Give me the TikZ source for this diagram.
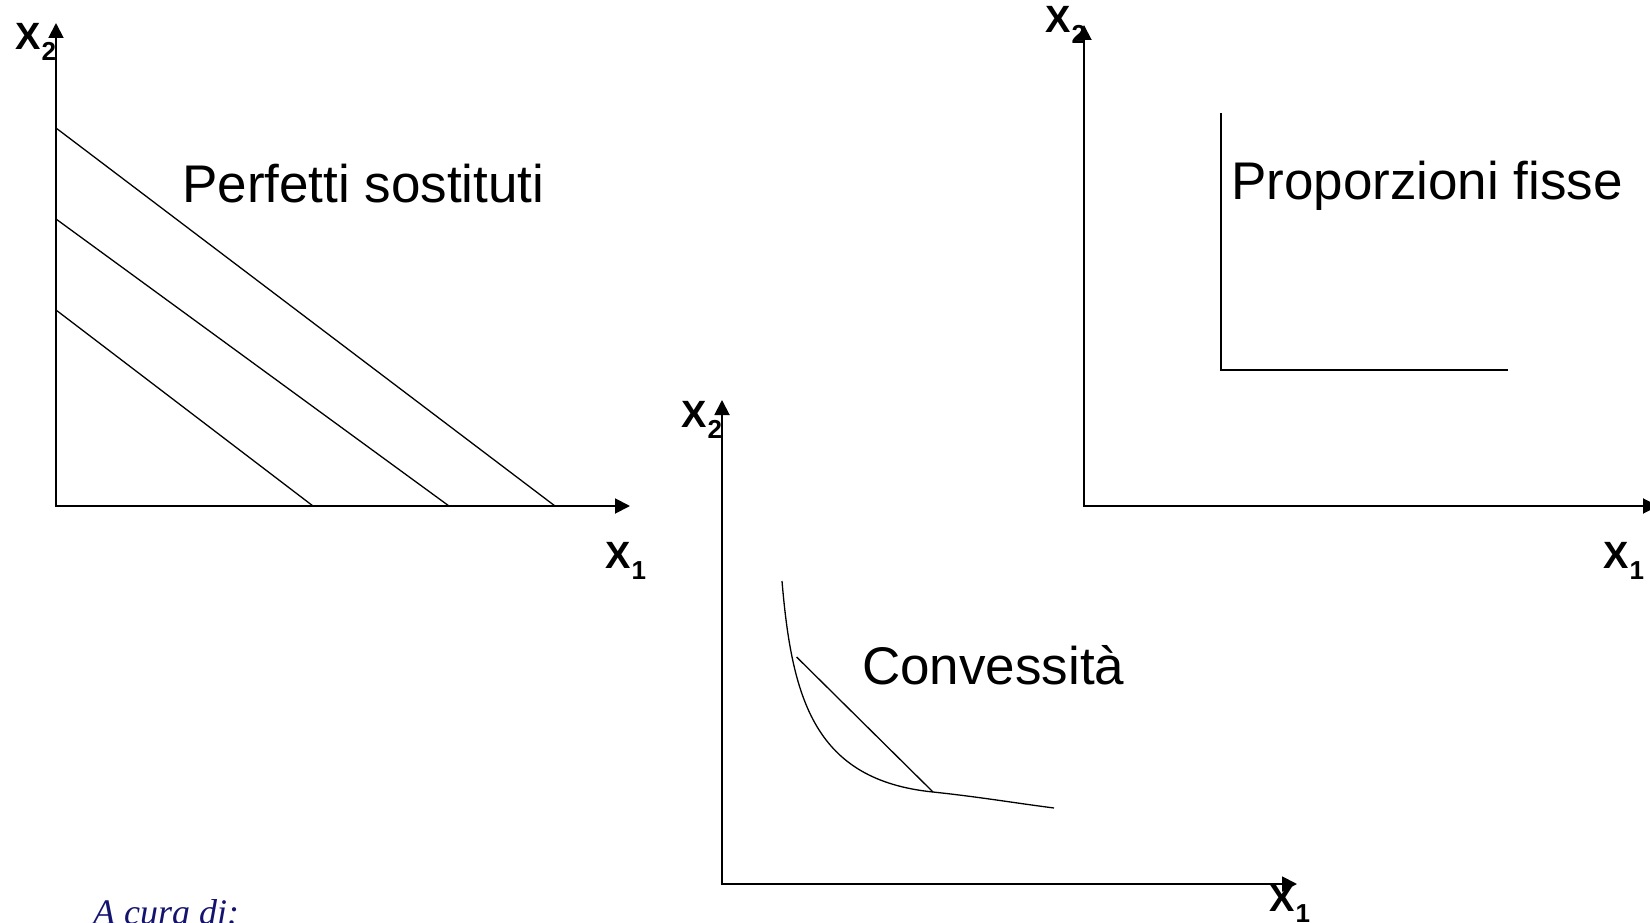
\documentclass[tikz,border=0pt]{standalone}
\usepackage{fontspec}
\setmainfont{Liberation Sans}
\newfontfamily\curafont{Liberation Serif}
\usetikzlibrary{arrows.meta}
\definecolor{curanavy}{RGB}{20,20,110}

% bold X with a lowered index
\newcommand{\xvar}[1]{\textbf{X\kern1pt\raisebox{-11pt}{\fontsize{26}{28}\selectfont #1}}}

\begin{document}
\begin{tikzpicture}[x=1pt, y=-1pt,
  >={Triangle[length=15pt,width=15pt]},
  ax/.style={draw=black, line width=1.9pt, <->},
  iso/.style={draw=black, line width=1.3pt},
  ttl/.style={inner sep=0pt, anchor=base west, font=\fontsize{53}{60}\selectfont},
  var/.style={inner sep=0pt, anchor=base west, font=\fontsize{38}{40}\selectfont}]
\useasboundingbox (0,0) rectangle (1650,923);

% perfetti sostituti
\coordinate (ya) at (56,23);
\coordinate (oa) at (56,506);
\coordinate (xa) at (630,506);
\draw[ax] (ya) -- (oa) -- (xa);
\foreach \a/\b in {128/555, 219/449, 310/313}
  \draw[iso] (56,\a) -- (\b,506);
\node[var] (x2a) at (15,50) {\xvar{2}};
\node[var] (x1a) at (605,568) {\xvar{1}};
\node[ttl] (perf) at (182,202) {Perfetti sostituti};

% proporzioni fisse
\coordinate (yb) at (1084,25);
\coordinate (ob) at (1084,506);
\coordinate (xb) at (1658,506);
\draw[ax] (yb) -- (ob) -- (xb);
\draw[iso] (1221,113) -- (1221,370) -- (1508,370);
\node[var] (x2b) at (1045,33) {\xvar{2}};
\node[var] (x1b) at (1603,568) {\xvar{1}};
\node[ttl] (prop) at (1231,200) {Proporzioni fisse};

% convessita
\coordinate (yc) at (722,400);
\coordinate (oc) at (722,884);
\coordinate (xc) at (1297,884);
\draw[ax] (yc) -- (oc) -- (xc);
\coordinate (ca) at (796.6,657);
\coordinate (cb) at (933,792);
\draw[iso] (782,581) .. controls (792,700) and (815,780) .. (cb)
  .. controls (980,797) and (1015,803) .. (1054,808);
\draw[iso] (ca) -- (cb);
\node[var] (x2c) at (681,427) {\xvar{2}};
\node[var] (x1c) at (1269,911) {\xvar{1}};
\node[ttl] (conv) at (862,684) {Convessità};

\node[inner sep=0pt, anchor=base west, text=curanavy,
  font=\curafont\itshape\fontsize{36}{40}\selectfont] (cura) at (93,924) {A cura di:};
\end{tikzpicture}
\end{document}
